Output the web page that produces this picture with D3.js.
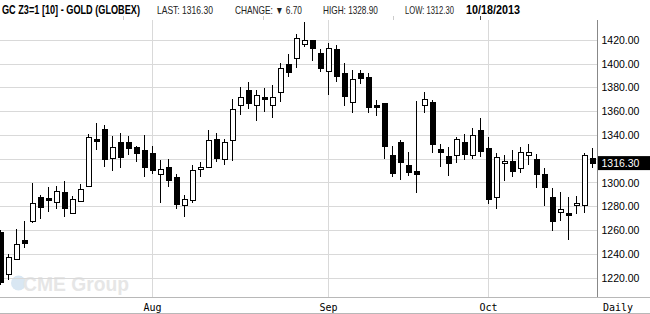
<!DOCTYPE html>
<html>
<head>
<meta charset="utf-8">
<script src="https://cdn.jsdelivr.net/npm/d3@7"></script>
<style>
  body { margin: 0; background: #fff; }
  svg { display: block; }
</style>
</head>
<body>
<svg id="chart" width="650" height="314"></svg>
<script>
// daily bars, GC Z3, 5 Jul 2013 .. 18 Oct 2013 (index = trading day)
const opens = [1258, 1223, 1235.5, 1251.5, 1267.5, 1287.5, 1286.5, 1283.5, 1292, 1274,
  1284, 1297, 1336.3, 1344.5, 1320, 1334, 1334, 1329, 1327, 1324,
  1307, 1313, 1304, 1280.5, 1285, 1311, 1313, 1336, 1319.5, 1335.5,
  1365, 1377.5, 1365, 1371.5, 1365, 1376, 1399.5, 1404.5, 1416, 1419,
  1408, 1393.5, 1412, 1392, 1367, 1392, 1388, 1365, 1366.5, 1323,
  1334, 1314, 1309.5, 1365, 1367, 1327.5, 1322, 1322.5, 1334, 1323,
  1344, 1328.5, 1287, 1316, 1318, 1312, 1323, 1319.5, 1307, 1287,
  1275, 1274, 1280.5, 1280.5, 1320];
const highs = [1260, 1240, 1261, 1267.5, 1300, 1289.5, 1296, 1297, 1301, 1289,
  1299, 1340.5, 1350, 1348, 1339, 1342, 1339, 1331, 1340, 1331,
  1319, 1320, 1307, 1289.5, 1315, 1317, 1344, 1342, 1336.5, 1370,
  1380.5, 1384.5, 1378, 1379, 1382, 1400.5, 1408, 1425, 1435, 1420,
  1412, 1417, 1415.5, 1400.5, 1394.5, 1394.5, 1392, 1369.5, 1367, 1331,
  1336, 1325.5, 1368.5, 1376, 1369.5, 1332, 1329.5, 1338.5, 1341, 1345.5,
  1354, 1338, 1325, 1323.5, 1327, 1329.5, 1332, 1324, 1312, 1295,
  1292, 1288, 1289, 1325, 1328.9];
const lows = [1214, 1218, 1235, 1245, 1266, 1269, 1275, 1278, 1271, 1274,
  1284, 1296.5, 1327, 1313, 1310, 1312, 1323, 1317, 1305, 1307,
  1282.5, 1296.5, 1278, 1271, 1282.5, 1304.5, 1312.5, 1317.5, 1315, 1318,
  1357, 1362, 1352, 1359.5, 1354.5, 1368, 1389, 1396, 1413.5, 1402.5,
  1392.5, 1373.5, 1384.5, 1364.5, 1358.5, 1382.5, 1358, 1356, 1320, 1304.5,
  1302, 1305.5, 1291.5, 1358.5, 1325, 1313, 1305.5, 1316.5, 1319, 1320,
  1321.5, 1282, 1277.5, 1301.5, 1305, 1308, 1315, 1295, 1280, 1259.5,
  1268, 1251.5, 1273.5, 1274, 1312.3];
const closes = [1216, 1237, 1248, 1248.5, 1282.5, 1279, 1284.5, 1292.5, 1278, 1286,
  1294, 1338, 1334.3, 1319.5, 1329.5, 1321, 1328.5, 1324, 1312.5, 1310,
  1311, 1301.5, 1281.5, 1286, 1310, 1313, 1335, 1320.5, 1334, 1361.5,
  1371.5, 1366, 1373, 1369.5, 1371.5, 1396, 1392.5, 1421, 1419.5, 1412.5,
  1395.5, 1413, 1389, 1372.5, 1386.5, 1387, 1363, 1363, 1330, 1307.5,
  1316.5, 1308.5, 1307, 1370, 1332, 1325.5, 1316, 1336.5, 1323.5, 1339.5,
  1326, 1286, 1321, 1318, 1309, 1325.5, 1325, 1306.5, 1295.5, 1267,
  1277, 1272, 1282.5, 1323, 1316.3];

const priceTicks = [1220, 1240, 1260, 1280, 1300, 1320, 1340, 1360, 1380, 1400, 1420];
const monthIdx = [19, 41, 61];
const monthLabels = ['Aug', 'Sep', 'Oct'];

const headerTitle = 'GC Z3=1 [10] - GOLD (GLOBEX)';
const headerStats = ['LAST: 1316.30', 'CHANGE: \u25BC 6.70', 'HIGH: 1328.90', 'LOW: 1312.30'];
const headerDate = '10/18/2013';
const lastPrice = 1316.30;

const svg = d3.select('#chart');
const plotRight = 597.5, plotTop = 20, plotBottom = 297;

const x = d3.scaleLinear().domain([0, 74]).range([0, 592]);
const y = d3.scaleLinear().domain([1220, 1420]).range([277.7, 39.7]);

const bars = closes.map((c, i) => ({ i, o: opens[i], h: highs[i], l: lows[i], c }));

// header text is condensed: draw it normally, then squeeze it to the width it has in the picture
function squeezed(txt, x0, y0, w, size, bold, fill) {
  const t = svg.append('text')
    .attr('font-family', 'Liberation Sans, Arial, sans-serif')
    .attr('font-weight', bold ? 'bold' : 'normal')
    .attr('font-size', size)
    .attr('fill', fill)
    .text(txt);
  const natural = t.node().getComputedTextLength();
  t.attr('transform', `translate(${x0},${y0}) scale(${w / natural},1)`);
  return t;
}

squeezed(headerTitle, 2, 14, 138, 13, true, '#000');
const statX = [157, 235, 323, 405];
const statW = [56, 67, 55, 49];
headerStats.forEach((s, i) => squeezed(s, statX[i], 13.5, statW[i], 10.5, false, '#222'));
squeezed(headerDate, 466, 14, 54, 13, true, '#000');

// little separators under the header
svg.append('g').selectAll('line')
  .data([123, 263, 393, 480])
  .join('line')
  .attr('x1', (d) => d + 0.5).attr('x2', (d) => d + 0.5)
  .attr('y1', 16).attr('y2', 20)
  .attr('stroke', (d, i) => (i === 3 ? '#444' : '#ccc'));

// watermark
const wm = svg.append('g');
wm.append('circle').attr('cx', 18.5).attr('cy', 283).attr('r', 7.5).attr('fill', '#d9e7f3');
wm.append('text')
  .attr('x', 23).attr('y', 291)
  .attr('font-family', 'Liberation Sans, Arial, sans-serif')
  .attr('font-weight', 'bold').attr('font-size', 21)
  .attr('fill', '#e6e6e6')
  .attr('textLength', 106).attr('lengthAdjust', 'spacingAndGlyphs')
  .text('CME Group');

// grid
const grid = svg.append('g').attr('shape-rendering', 'crispEdges');
grid.selectAll('line.h')
  .data(priceTicks)
  .join('line')
  .attr('class', 'h')
  .attr('x1', 0).attr('x2', plotRight)
  .attr('y1', (d) => Math.round(y(d)) + 0.5).attr('y2', (d) => Math.round(y(d)) + 0.5)
  .attr('stroke', '#d9d9d9');
grid.selectAll('line.v')
  .data(monthIdx)
  .join('line')
  .attr('class', 'v')
  .attr('x1', (d) => x(d) + 0.5).attr('x2', (d) => x(d) + 0.5)
  .attr('y1', plotTop).attr('y2', plotBottom)
  .attr('stroke', '#d9d9d9');

// borders
svg.append('line')
  .attr('x1', 0).attr('x2', 650).attr('y1', plotBottom + 0.5).attr('y2', plotBottom + 0.5)
  .attr('stroke', '#b8b8b8');
svg.append('line')
  .attr('x1', 0).attr('x2', 650).attr('y1', 313.5).attr('y2', 313.5)
  .attr('stroke', '#b8b8b8');
svg.append('line')
  .attr('x1', plotRight).attr('x2', plotRight).attr('y1', plotTop).attr('y2', plotBottom)
  .attr('stroke', '#888');

// candles
const candles = svg.append('g')
  .attr('shape-rendering', 'crispEdges')
  .selectAll('g')
  .data(bars)
  .join('g')
  .attr('transform', (d) => `translate(${x(d.i) + 0.5},0)`);

candles.append('line')
  .attr('y1', (d) => y(d.h)).attr('y2', (d) => y(d.l))
  .attr('stroke', '#000').attr('stroke-width', 1);

candles.append('rect')
  .attr('x', -2.5).attr('width', 5)
  .attr('y', (d) => y(Math.max(d.o, d.c)))
  .attr('height', (d) => Math.max(1, Math.abs(y(d.o) - y(d.c))))
  .attr('fill', (d) => (d.c >= d.o ? '#fff' : '#000'))
  .attr('stroke', '#000').attr('stroke-width', 1);

// price axis labels (the last-price tag hides the one it sits on)
svg.append('g').selectAll('text')
  .data(priceTicks.filter((d) => y(d) > plotTop + 5 && Math.abs(y(d) - y(lastPrice)) > 12))
  .join('text')
  .attr('x', 601.5).attr('y', (d) => y(d) + 4)
  .attr('font-family', 'Liberation Sans, Arial, sans-serif')
  .attr('font-size', 10.5).attr('fill', '#000')
  .text(d3.format('.2f'));

// last price tag
svg.append('rect')
  .attr('x', 598).attr('y', y(lastPrice) - 7).attr('width', 52).attr('height', 14)
  .attr('fill', '#000');
svg.append('text')
  .attr('x', 601.5).attr('y', y(lastPrice) + 4)
  .attr('font-family', 'Liberation Sans, Arial, sans-serif')
  .attr('font-size', 10.5).attr('fill', '#fff')
  .text(d3.format('.2f')(lastPrice));

// month labels
svg.append('g').selectAll('text')
  .data(monthIdx)
  .join('text')
  .attr('x', (d) => x(d) + 0.5).attr('y', 310.5)
  .attr('text-anchor', 'middle')
  .attr('font-family', 'DejaVu Sans Mono, monospace')
  .attr('font-size', 10).attr('fill', '#000')
  .text((d, i) => monthLabels[i]);

svg.append('text')
  .attr('x', 603).attr('y', 310.5)
  .attr('font-family', 'DejaVu Sans Mono, monospace')
  .attr('font-size', 10).attr('fill', '#000')
  .text('Daily');
</script>
</body>
</html>
